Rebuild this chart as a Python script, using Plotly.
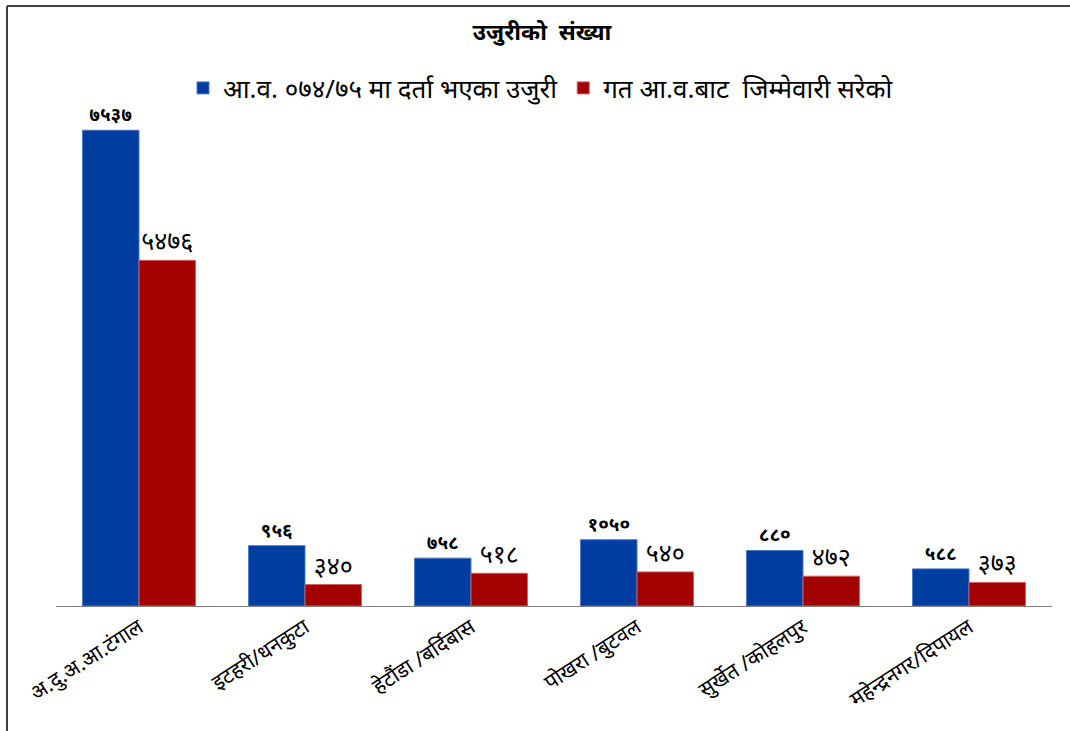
import plotly.graph_objects as go

categories = ["अ.दु.अ.आ.टंगाल", "इटहरी/धनकुटा", "हेटौंडा /बर्दिबास", "पोखरा /बुटवल", "सुर्खेत /कोहलपुर", "महेन्द्रनगर/दिपायल"]
registered = [7537, 956, 758, 1050, 880, 588]
registered_labels = ["७५३७", "९५६", "७५८", "१०५०", "८८०", "५८८"]
carried = [5476, 340, 518, 540, 472, 373]
carried_labels = ["५४७६", "३४०", "५१८", "५४०", "४७२", "३७३"]
series_names = ["आ.व. ०७४/७५ मा दर्ता भएका उजुरी", "गत आ.व.बाट  जिम्मेवारी सरेको"]
title_text = "उजुरीको  संख्या"

W, H = 1070, 731
L, R, T, B = 56, 1052, 101, 606

fig = go.Figure()
fig.add_trace(go.Bar(
    x=categories, y=registered, name=series_names[0],
    marker=dict(color="#003DA0", line=dict(color="#4A78C4", width=1)),
    text=registered_labels, textposition="outside", cliponaxis=False,
    textfont=dict(size=19, color="black", weight="bold"),
))
fig.add_trace(go.Bar(
    x=categories, y=carried, name=series_names[1],
    marker=dict(color="#A30000", line=dict(color="#D06060", width=1)),
    text=carried_labels, textposition="outside", cliponaxis=False,
    textfont=dict(size=25, color="black"),
))

def px_x(p):
    return (p - L) / (R - L)

def px_y(p):
    return (B - p) / (B - T)

shapes = [
    dict(type="line", xref="paper", yref="paper", x0=px_x(7), x1=px_x(1080), y0=px_y(6), y1=px_y(6),
         line=dict(color="#404040", width=2)),
    dict(type="line", xref="paper", yref="paper", x0=px_x(7), x1=px_x(7), y0=px_y(6), y1=px_y(740),
         line=dict(color="#404040", width=2)),
]

fig.update_layout(
    width=W, height=H,
    margin=dict(l=L, r=W - R, t=T, b=H - B, autoexpand=False),
    paper_bgcolor="white", plot_bgcolor="white",
    font=dict(family="Noto Sans, sans-serif", color="black"),
    barmode="group", bargap=0.32, bargroupgap=0,
    title=dict(text=title_text, x=542 / W, xref="container", xanchor="center",
               y=1 - 32 / H, yref="container", yanchor="middle",
               font=dict(size=23, color="black", weight="bold")),
    legend=dict(orientation="h", x=541 / W, xref="container", xanchor="center",
                y=1 - 88 / H, yref="container", yanchor="middle",
                font=dict(size=26, color="black"), itemwidth=30),
    xaxis=dict(showline=True, linecolor="#808080", linewidth=1, ticks="", tickangle=-33,
               tickfont=dict(size=21, color="black"), showgrid=False),
    yaxis=dict(range=[0, 8000], visible=False, showgrid=False),
    shapes=shapes,
    showlegend=True,
)

fig.write_html("out.html", config={"displayModeBar": False},
               post_script="document.body.style.margin='0';document.body.style.overflow='hidden';")
